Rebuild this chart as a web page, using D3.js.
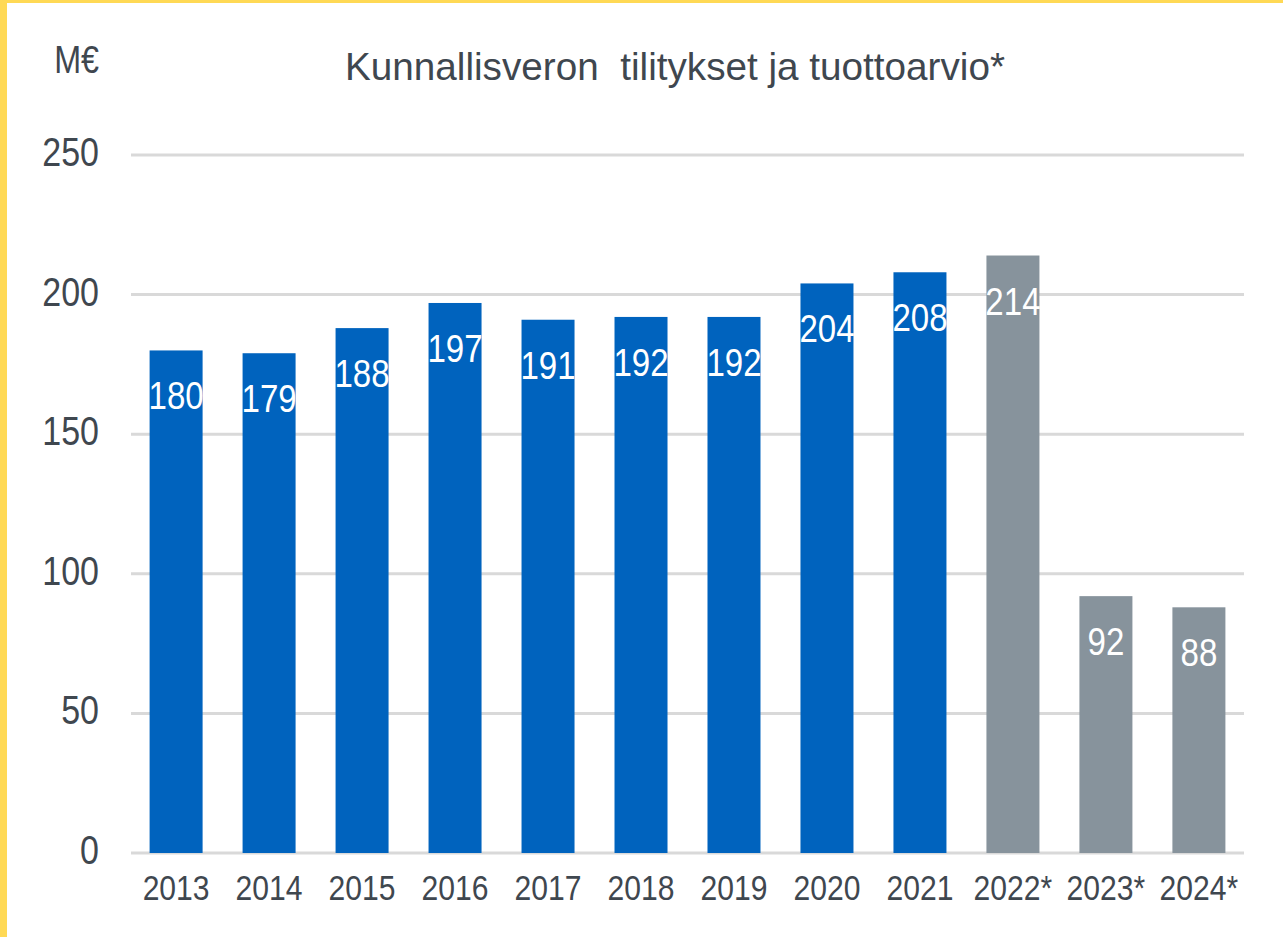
<!DOCTYPE html>
<meta charset="utf-8">
<head>
  <title>Kunnallisveron tilitykset</title>
  <style>
  body { margin: 0; background: #fff; }
  svg { display: block; font-family: "Liberation Sans", Arial, sans-serif; }
  .grid line { stroke: #d9d9d9; stroke-width: 3px; }
  </style>
</head>
<html>
    <body>
      <svg width="1283" height="937"></svg>
    </body>
</html>
<script src="https://d3js.org/d3.v7.min.js"></script>
<script>
var years = ["2013", "2014", "2015", "2016", "2017", "2018", "2019", "2020", "2021", "2022*", "2023*", "2024*"];
var values = [180, 179, 188, 197, 191, 192, 192, 204, 208, 214, 92, 88];
var estimate = [false, false, false, false, false, false, false, false, false, true, true, true];
var yTicks = [0, 50, 100, 150, 200, 250];

var svg = d3.select("svg"),
    margin = {top: 155, right: 39, bottom: 84, left: 131},
    width = +svg.attr("width") - margin.left - margin.right,
    height = +svg.attr("height") - margin.top - margin.bottom;

// yellow frame on the left and top
svg.append("rect").attr("x", 0).attr("y", 0).attr("width", 1283).attr("height", 3).attr("fill", "#ffd955");
svg.append("rect").attr("x", 0).attr("y", 0).attr("width", 7).attr("height", 937).attr("fill", "#ffd955");

var g = svg.append("g").attr("transform", "translate(" + margin.left + "," + margin.top + ")");

var x = d3.scaleBand()
    .domain(years)
    .range([0, width])
    .paddingInner(0.43)
    .paddingOuter(0.2);

var y = d3.scaleLinear()
    .domain([0, 250])
    .range([height, 0]);

var textColor = "#3f474f";

g.append("g")
    .attr("class", "grid")
  .selectAll("line")
  .data(yTicks)
  .enter().append("line")
    .attr("x1", 0)
    .attr("x2", width)
    .attr("y1", function(d) { return y(d); })
    .attr("y2", function(d) { return y(d); });

// y tick labels
g.selectAll(".ylab")
  .data(yTicks)
  .enter().append("text")
    .attr("class", "ylab")
    .attr("transform", function(d) { return "translate(-32," + (y(d) + 11) + ") scale(0.85,1)"; })
    .attr("text-anchor", "end")
    .attr("font-size", 40)
    .attr("fill", textColor)
    .text(function(d) { return d; });

g.selectAll(".bar")
  .data(values)
  .enter().append("rect")
    .attr("class", "bar")
    .attr("x", function(d, i) { return x(years[i]); })
    .attr("width", x.bandwidth())
    .attr("y", function(d) { return y(d); })
    .attr("height", function(d) { return height - y(d); })
    .attr("fill", function(d, i) { return estimate[i] ? "#87939c" : "#0063be"; });

g.selectAll(".val")
  .data(values)
  .enter().append("text")
    .attr("class", "val")
    .attr("transform", function(d, i) {
      return "translate(" + (x(years[i]) + x.bandwidth() / 2) + "," + (y(d) + 59) + ") scale(0.87,1)";
    })
    .attr("text-anchor", "middle")
    .attr("font-size", 38)
    .attr("fill", "#fff")
    .text(function(d) { return d; });

// x labels
g.selectAll(".xlab")
  .data(years)
  .enter().append("text")
    .attr("class", "xlab")
    .attr("transform", function(d) { return "translate(" + (x(d) + x.bandwidth() / 2) + "," + (height + 47) + ") scale(0.86,1)"; })
    .attr("text-anchor", "middle")
    .attr("font-size", 35)
    .attr("fill", textColor)
    .text(function(d) { return d; });

svg.append("text")
    .attr("transform", "translate(99,73) scale(0.85,1)")
    .attr("text-anchor", "end")
    .attr("font-size", 38)
    .attr("fill", textColor)
    .text("M€");

svg.append("text")
    .attr("x", 345)
    .attr("y", 80)
    .attr("font-size", 39)
    .attr("textLength", 660)
    .attr("lengthAdjust", "spacingAndGlyphs")
    .attr("fill", textColor)
    .attr("xml:space", "preserve")
    .text("Kunnallisveron  tilitykset ja tuottoarvio*");
</script>
